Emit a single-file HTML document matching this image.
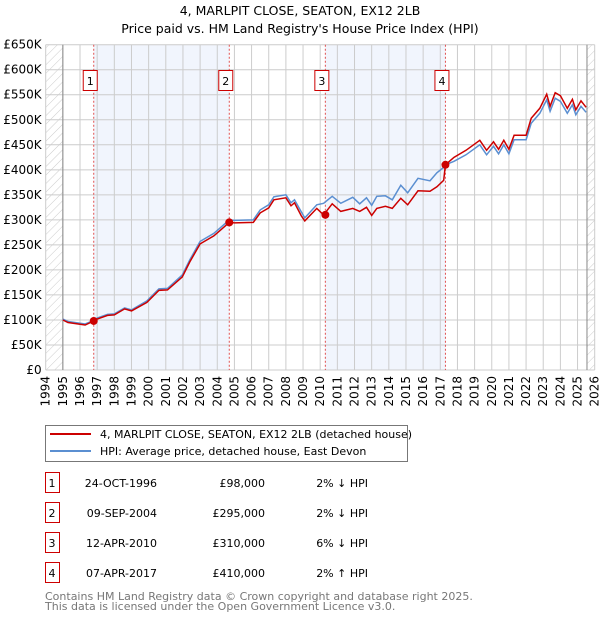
<!DOCTYPE html>
<html><head><meta charset="utf-8"><style>
body{margin:0;background:#fff;font-family:"Liberation Sans","DejaVu Sans",sans-serif}
svg text{font-family:"DejaVu Sans","Liberation Sans",sans-serif}
</style></head><body>
<svg id="c" width="600" height="620" xmlns="http://www.w3.org/2000/svg">
<defs><pattern id="hatch" width="6" height="6" patternUnits="userSpaceOnUse" patternTransform="rotate(45)"><line x1="0" y1="0" x2="0" y2="6" stroke="#ccc" stroke-width="1"/></pattern></defs>
<text x="300" y="15" text-anchor="middle" font-size="12.5">4, MARLPIT CLOSE, SEATON, EX12 2LB</text>
<text x="300" y="33" text-anchor="middle" font-size="12.5">Price paid vs. HM Land Registry's House Price Index (HPI)</text>
<g id="plot"></g>
<g>
<rect x="45.5" y="425.5" width="362" height="36" fill="#fff" stroke="#777"/>
<line x1="50" y1="434" x2="91" y2="434" stroke="#cc0000" stroke-width="2"/>
<text x="100" y="438" font-size="11">4, MARLPIT CLOSE, SEATON, EX12 2LB (detached house)</text>
<line x1="50" y1="451" x2="91" y2="451" stroke="#5b8fd1" stroke-width="2"/>
<text x="100" y="455" font-size="11">HPI: Average price, detached house, East Devon</text>
</g>
<g id="table" font-size="11"></g>
<text x="45" y="600" font-size="11" fill="#777">Contains HM Land Registry data © Crown copyright and database right 2025.</text>
<text x="45" y="610" font-size="11" fill="#777">This data is licensed under the Open Government Licence v3.0.</text>
</svg>
<script>
const dates=[1995.0,1995.3,1995.9,1996.3,1996.8,1997.0,1997.6,1998.0,1998.6,1999.0,1999.9,2000.6,2001.1,2001.96,2002.4,2003.0,2003.8,2004.2,2004.7,2005.0,2006.1,2006.5,2007.0,2007.3,2008.0,2008.3,2008.5,2008.9,2009.1,2009.8,2010.2,2010.7,2011.2,2011.9,2012.3,2012.7,2013.0,2013.3,2013.8,2014.2,2014.7,2015.1,2015.7,2016.4,2016.8,2017.2,2017.3,2017.8,2018.5,2019.3,2019.7,2020.1,2020.4,2020.7,2021.0,2021.3,2022.0,2022.3,2022.8,2023.2,2023.4,2023.7,2024.0,2024.4,2024.7,2024.9,2025.2,2025.5];
const hpi=[102,97,94,92,99,104,111,112,124,120,138,162,163,190,220,257,273,285,300,299,300,320,330,346,350,334,340,316,304,330,333,347,333,345,332,344,329,347,348,340,369,354,383,378,394,405,410,417,430,450,430,447,432,450,432,460,460,493,513,540,517,543,537,513,530,510,527,515];
const price=[100,95,92,90,98,102,109,110,122,118,135,159,160,186,216,252,268,280,295,294,295,314,324,340,344,328,334,308,298,323,310,332,317,323,317,325,309,323,327,323,343,330,358,357,366,379,410,425,439,459,439,456,441,459,441,469,469,503,523,551,527,554,548,523,541,520,538,525];
const saleDates=[1996.8,2004.7,2010.3,2017.3];
const salePrices=[98,295,310,410];
const saleLabels=["1","2","3","4"];
const saleDateText=["24-OCT-1996","09-SEP-2004","12-APR-2010","07-APR-2017"];
const salePriceText=["£98,000","£295,000","£310,000","£410,000"];
const saleHpiText=["2% ↓ HPI","2% ↓ HPI","6% ↓ HPI","2% ↑ HPI"];
const yTicks=[0,50,100,150,200,250,300,350,400,450,500,550,600,650];
const yTickLabels=["£0","£50K","£100K","£150K","£200K","£250K","£300K","£350K","£400K","£450K","£500K","£550K","£600K","£650K"];

const NS="http://www.w3.org/2000/svg";
const X0=45.7,X1=594.7,Y0=370,Y1=44.7;
const xs=y=>X0+(y-1994)*(X1-X0)/32;
const ys=v=>Y0-(v/650)*(Y0-Y1);
const plot=document.getElementById('plot');
function mk(tag,attrs,parent){const e=document.createElementNS(NS,tag);for(const k in attrs)e.setAttribute(k,attrs[k]);(parent||plot).appendChild(e);return e;}
// shaded sale periods
for(let i=0;i<saleDates.length;i+=2){
 const r=mk('rect',{x:xs(saleDates[i]),y:Y1,width:xs(saleDates[i+1])-xs(saleDates[i]),height:Y0-Y1,fill:'#eef3fc',opacity:0.8});
 
 
}
// hatched regions
let h=mk('rect',{x:X0,y:Y1,width:xs(1995)-X0,height:Y0-Y1,fill:'url(#hatch)'});


h=mk('rect',{x:xs(2025.55),y:Y1,width:X1-xs(2025.55),height:Y0-Y1,fill:'url(#hatch)'});


// grid
for(let y=1994;y<=2026;y++){
 const l=mk('line',{x1:xs(y),x2:xs(y),y1:Y1,y2:Y0,stroke:'#ccc','stroke-width':1});
 
 
 const t=mk('text',{x:0,y:0,'font-size':12,'text-anchor':'end',transform:`translate(${xs(y)+4},${Y0+6}) rotate(-90)`});
 t.textContent=y;
 
 
}
yTicks.forEach((v,i)=>{
 const l=mk('line',{x1:X0,x2:X1,y1:ys(v),y2:ys(v),stroke:'#ccc','stroke-width':1});
 
 
 const t=mk('text',{x:X0-4,y:ys(v)+4,'font-size':12,'text-anchor':'end'});
 t.textContent=yTickLabels[i];
 
 
});
let a=mk('line',{x1:xs(1995),x2:xs(1995),y1:Y1,y2:Y0,stroke:'#888'});


a=mk('line',{x1:xs(2025.55),x2:xs(2025.55),y1:Y1,y2:Y0,stroke:'#888'});


// sale vertical lines
saleDates.forEach((d,i)=>{
 const l=mk('line',{x1:xs(d),x2:xs(d),y1:Y1,y2:Y0,stroke:'#e05050','stroke-width':1,'stroke-dasharray':'2,2'});
 
 
 const b=mk('rect',{x:xs(d)-10.5,y:70.5,width:14,height:20,fill:'#fff',stroke:'#cc0000'});
 
 
 const t=mk('text',{x:xs(d)-3.5,y:85,'font-size':11,'text-anchor':'middle'});
 t.textContent=saleLabels[i];
 
 
});
function pts(vals){return dates.map((d,i)=>xs(d).toFixed(1)+','+ys(vals[i]).toFixed(1)).join(' ');}
const hl=mk('polyline',{points:pts(hpi),fill:'none',stroke:'#5b8fd1','stroke-width':1.5});


const pl=mk('polyline',{points:pts(price),fill:'none',stroke:'#cc0000','stroke-width':1.5});


saleDates.forEach((d,i)=>{
 const c=mk('circle',{cx:xs(d),cy:ys(salePrices[i]),r:4,fill:'#cc0000'});
 
 
});
// table
const tb=document.getElementById('table');
saleLabels.forEach((lab,i)=>{
 const y=483+i*30;
 const r=mk('rect',{x:45.5,y:y-10.5,width:14,height:20,fill:'#fff',stroke:'#cc0000'},tb);
 
 
 const cells=[[52,lab,'middle'],[157,saleDateText[i],'end'],[265,salePriceText[i],'end'],[368,saleHpiText[i],'end']];
 cells.forEach(c=>{
  const t=mk('text',{x:c[0],y:y+4,'text-anchor':c[2]},tb);
  t.textContent=c[1];
  
  
 });
});
</script>
</body></html>
